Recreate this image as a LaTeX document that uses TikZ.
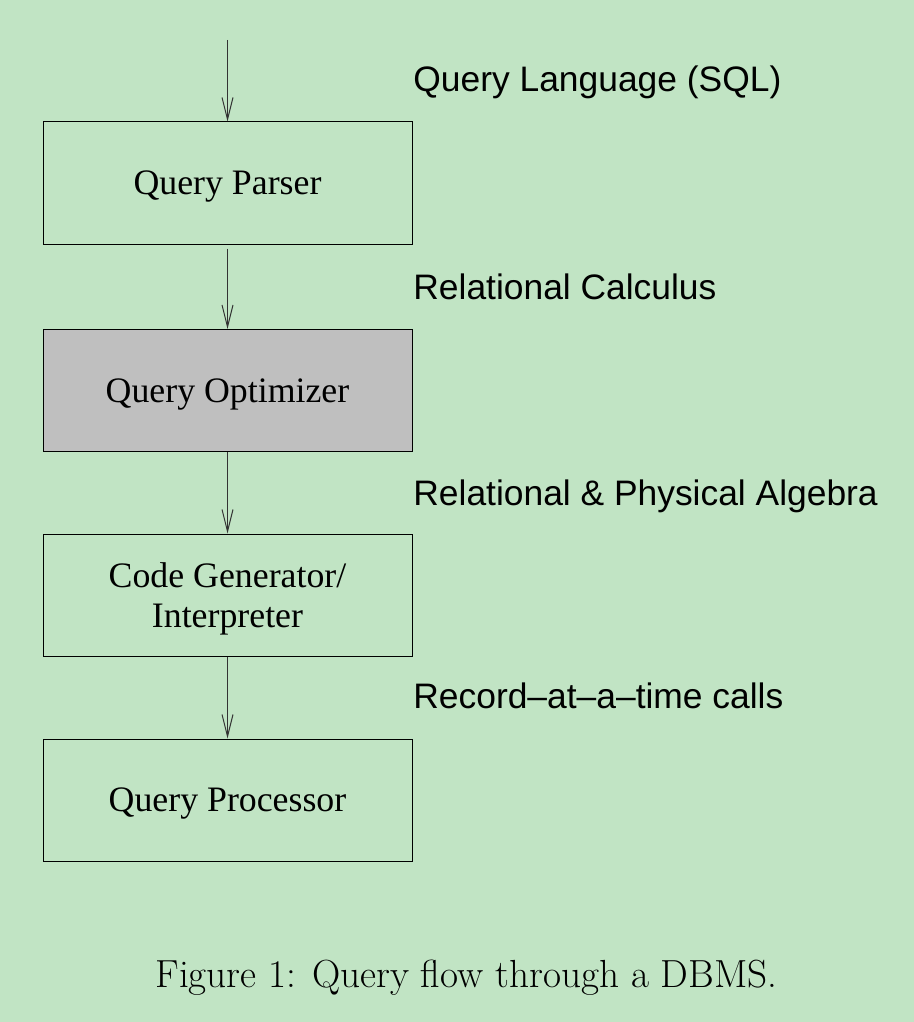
\documentclass[tikz,border=0pt]{standalone}
\usepackage{fontspec}
\newfontfamily\boxfont{Liberation Serif}
\newfontfamily\labfont{Liberation Sans}
\usetikzlibrary{arrows.meta}
\definecolor{bggreen}{RGB}{193,228,196}
\definecolor{optgrey}{RGB}{191,191,191}
\tikzset{
  stagebox/.style={draw=black, line width=0.5pt, minimum width=184.5pt, minimum height=61pt,
    inner sep=0pt, align=center, text depth=0pt,
    font=\boxfont\fontsize{17.9}{20}\selectfont},
  flowarrow/.style={draw=black!80, line width=0.5pt, -{Straight Barb[length=11pt,width=5.5pt,line width=0.5pt]}},
  sidelabel/.style={anchor=base west, inner sep=0pt, font=\labfont\fontsize{17.7}{20}\selectfont},
  captiontext/.style={anchor=base west, inner sep=0pt, font=\fontsize{19.6}{22}\selectfont}
}
\begin{document}
\begin{tikzpicture}[x=0.5pt, y=-0.5pt]
\fill[bggreen] (0,0) rectangle (914,1022);
\useasboundingbox (0,0) rectangle (914,1022);

\node[stagebox] (parser) at (227.5,183) {Query Parser};
\node[stagebox, fill=optgrey] (optimizer) at (227.5,390.5) {Query Optimizer};
\node[stagebox] (codegen) at (227.5,595) {Code Generator/\\Interpreter};
\node[stagebox] (processor) at (227.5,800) {Query Processor};

\coordinate (start) at (227.5,40);

\draw[flowarrow] (start) -- (parser.north);
\draw[flowarrow] ([yshift=-2pt]parser.south) -- (optimizer.north);
\draw[flowarrow] (optimizer.south) -- (codegen.north);
\draw[flowarrow] (codegen.south) -- (processor.north);

\node[sidelabel] (l1) at (413,92) {Query Language (SQL)};
\node[sidelabel] (l2) at (413,299) {Relational Calculus};
\node[sidelabel] (l3) at (413,505) {Relational \& Physical Algebra};
\node[sidelabel] (l4) at (413,708) {Record–at–a–time calls};

\node[captiontext] (cap) at (155,987) {Figure 1: Query flow through a DBMS.};
\end{tikzpicture}
\end{document}
